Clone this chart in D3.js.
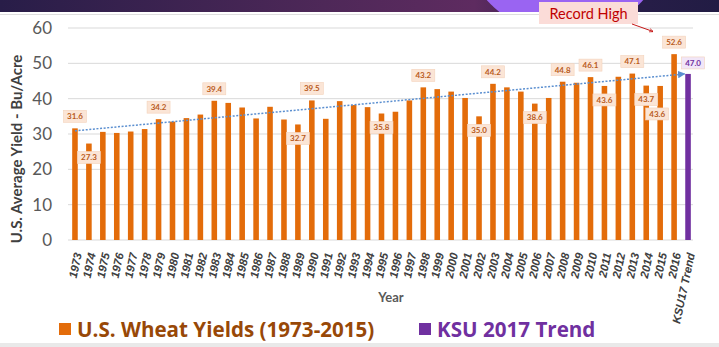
<!DOCTYPE html>
<html>
<head>
<meta charset="utf-8">
<script src="https://cdn.jsdelivr.net/npm/d3@7/dist/d3.min.js"></script>
<style>
  html, body { margin: 0; padding: 0; background: #ffffff; }
  svg { display: block; font-family: Lato, "Open Sans", sans-serif; }
</style>
</head>
<body>
<svg id="chart" width="719" height="347"></svg>
<script>
// U.S. wheat yields by harvest year (bushels per acre)
const years = ["1973","1974","1975","1976","1977","1978","1979","1980","1981","1982",
  "1983","1984","1985","1986","1987","1988","1989","1990","1991","1992",
  "1993","1994","1995","1996","1997","1998","1999","2000","2001","2002",
  "2003","2004","2005","2006","2007","2008","2009","2010","2011","2012",
  "2013","2014","2015","2016"];
const yields = [31.6,27.3,30.6,30.3,30.7,31.4,34.2,33.5,34.5,35.5,
  39.4,38.8,37.5,34.4,37.7,34.1,32.7,39.5,34.3,39.3,
  38.2,37.6,35.8,36.3,39.5,43.2,42.7,42.0,40.2,35.0,
  44.2,43.2,42.0,38.6,40.2,44.8,44.5,46.1,43.6,46.2,
  47.1,43.7,43.6,52.6];
// KSU projection for 2017
const trendCategory = "KSU17 Trend";
const trendValue = 47.0;
// Linear trend drawn from the first year to the projection
const trendLineStart = 30.9;
const trendLineEnd = 47.0;
// Years carrying a value callout
const labeledYears = ["1973","1974","1979","1983","1989","1990","1995","1998","2002","2003",
  "2006","2008","2010","2011","2013","2014","2015","2016"];
const yTicks = [0, 10, 20, 30, 40, 50, 60];
const legendLabels = ["U.S. Wheat Yields (1973-2015)", "KSU 2017 Trend"];

// Callout placement relative to the bar top
const calloutBelow = new Set(["1974","1989","1995","2002","2006","2011","2014"]);
const calloutFarBelow = new Set(["2015"]);

const ORANGE = "#e36c0a", PURPLE = "#7030a0";
const svg = d3.select("#chart");

// ---- slide header strip ----
const defs = svg.append("defs");
const hg = defs.append("linearGradient").attr("id", "hdr").attr("x1", "0").attr("x2", "1");
hg.append("stop").attr("offset", "0").attr("stop-color", "#281d48");
hg.append("stop").attr("offset", "0.45").attr("stop-color", "#4e2858");
hg.append("stop").attr("offset", "0.66").attr("stop-color", "#5e2b60");
hg.append("stop").attr("offset", "0.8").attr("stop-color", "#2a1e4a");
hg.append("stop").attr("offset", "1").attr("stop-color", "#221c44");
defs.append("clipPath").attr("id", "hdrClip")
  .append("rect").attr("x", 0).attr("y", 0).attr("width", 719).attr("height", 12);
svg.append("rect").attr("x", 0).attr("y", 0).attr("width", 719).attr("height", 12)
  .attr("fill", "url(#hdr)");
svg.append("circle").attr("cx", 565).attr("cy", -70).attr("r", 105)
  .attr("fill", "#9a64f2").attr("clip-path", "url(#hdrClip)");
svg.append("line").attr("x1", 0).attr("x2", 719).attr("y1", 14.5).attr("y2", 14.5)
  .attr("stroke", "#dedede").attr("stroke-width", 1.2);
svg.append("rect").attr("x", 0).attr("y", 343).attr("width", 719).attr("height", 4)
  .attr("fill", "#e9e9e9");

// ---- scales ----
const categories = years.concat([trendCategory]);
const x = d3.scaleBand().domain(categories).range([68, 695])
  .paddingInner(0.6).paddingOuter(0.3);
const y = d3.scaleLinear().domain([0, 60]).range([240, 28]);

// gridlines
svg.append("g").selectAll("line").data(yTicks.filter(t => t > 0)).join("line")
  .attr("x1", 68).attr("x2", 693)
  .attr("y1", d => y(d)).attr("y2", d => y(d))
  .attr("stroke", "#d9d9d9").attr("stroke-width", 1);
svg.append("line").attr("x1", 68).attr("x2", 693).attr("y1", y(0)).attr("y2", y(0))
  .attr("stroke", "#d9d9d9");

// y axis
const yAxis = svg.append("g").attr("transform", "translate(55,0)")
  .call(d3.axisLeft(y).tickValues(yTicks).tickSize(0).tickPadding(3));
yAxis.select(".domain").remove();
yAxis.selectAll("text").attr("font-size", 17).attr("fill", "#595959")
  .attr("font-family", "Lato, sans-serif");

svg.append("text")
  .attr("transform", "translate(22,149) rotate(-90)")
  .attr("text-anchor", "middle").attr("font-size", 15).attr("font-weight", 700)
  .attr("fill", "#404040").text("U.S. Average Yield - Bu/Acre");

// x axis labels
const xAxis = svg.append("g").attr("transform", `translate(0,${y(0)})`)
  .call(d3.axisBottom(x).tickSize(0).tickPadding(0));
xAxis.select(".domain").remove();
xAxis.selectAll(".tick text")
  .attr("text-anchor", "end")
  .attr("font-size", 11.5).attr("font-weight", 700).attr("font-style", "italic")
  .attr("fill", "#404040")
  .attr("transform", "translate(3,13) rotate(-78)")
  .attr("dy", "0.35em").attr("y", 0).attr("x", 0);

svg.append("text").attr("x", 391).attr("y", 302).attr("text-anchor", "middle")
  .attr("font-size", 13).attr("font-weight", 700).attr("fill", "#595959").text("Year");

// ---- bars ----
svg.append("g").selectAll("rect").data(years.map((yr, i) => ({yr, v: yields[i]}))).join("rect")
  .attr("x", d => x(d.yr)).attr("width", x.bandwidth())
  .attr("y", d => y(d.v)).attr("height", d => y(0) - y(d.v))
  .attr("fill", ORANGE);
svg.append("rect")
  .attr("x", x(trendCategory)).attr("width", x.bandwidth())
  .attr("y", y(trendValue)).attr("height", y(0) - y(trendValue))
  .attr("fill", PURPLE);

// ---- trend line ----
defs.append("marker").attr("id", "arrowBlue").attr("viewBox", "0 0 10 10")
  .attr("refX", 9).attr("refY", 5).attr("markerWidth", 5).attr("markerHeight", 5)
  .attr("orient", "auto")
  .append("path").attr("d", "M0,0 L10,5 L0,10 Z").attr("fill", "#5b8fd0");
svg.append("line")
  .attr("x1", x(years[0]) + x.bandwidth() / 2).attr("y1", y(trendLineStart))
  .attr("x2", x(trendCategory) - 0.5).attr("y2", y(trendLineEnd))
  .attr("stroke", "#5b8fd0").attr("stroke-width", 1.5)
  .attr("stroke-dasharray", "2,1.6").attr("marker-end", "url(#arrowBlue)");

// ---- value callouts ----
const callouts = labeledYears.map(yr => ({yr, v: yields[years.indexOf(yr)]}));
const cg = svg.append("g");
function callout(cx, cy, text, fill, color) {
  const g = cg.append("g").attr("transform", `translate(${cx},${cy})`);
  g.append("rect").attr("x", -11.5).attr("y", -6).attr("width", 23).attr("height", 12)
    .attr("fill", fill).attr("stroke", "#f3d2bb").attr("stroke-width", 0.6);
  g.append("text").attr("text-anchor", "middle").attr("dy", "0.35em")
    .attr("font-size", 8).attr("font-weight", 700).attr("fill", color).text(text);
}
callouts.forEach(d => {
  const cx = x(d.yr) + x.bandwidth() / 2;
  let cy = y(d.v) - 12;
  if (calloutBelow.has(d.yr)) cy = y(d.v) + 14;
  if (calloutFarBelow.has(d.yr)) cy = y(d.v) + 28;
  callout(calloutFarBelow.has(d.yr) ? cx - 3 : cx, cy, d.v.toFixed(1), "#fbe5d6", "#b85a1a");
});
callout(x(trendCategory) + x.bandwidth() / 2 + 5, y(trendValue) - 11,
  trendValue.toFixed(1), "#f1e6f8", PURPLE);

// ---- record high note ----
svg.append("rect").attr("x", 539).attr("y", 2).attr("width", 99).attr("height", 22)
  .attr("fill", "#fbdcd8");
svg.append("text").attr("x", 588.5).attr("y", 18.5).attr("text-anchor", "middle")
  .attr("font-size", 14.5).attr("fill", "#c00000").text("Record High");
defs.append("marker").attr("id", "arrowRed").attr("viewBox", "0 0 10 10")
  .attr("refX", 9).attr("refY", 5).attr("markerWidth", 5).attr("markerHeight", 5)
  .attr("orient", "auto")
  .append("path").attr("d", "M0,1 L10,5 L0,9").attr("fill", "none")
  .attr("stroke", "#c00000").attr("stroke-width", 1.5);
svg.append("line").attr("x1", 632).attr("y1", 24).attr("x2", 653).attr("y2", 31.5)
  .attr("stroke", "#c00000").attr("stroke-width", 0.9).attr("marker-end", "url(#arrowRed)");

// ---- legend ----
const legendItems = [
  {label: legendLabels[0], color: ORANGE, text: "#984807", x: 59},
  {label: legendLabels[1], color: PURPLE, text: PURPLE, x: 419}
];
const lg = svg.append("g").selectAll("g").data(legendItems).join("g")
  .attr("transform", d => `translate(${d.x},323)`);
lg.append("rect").attr("width", 12).attr("height", 12).attr("fill", d => d.color);
lg.append("text").attr("x", 18).attr("y", 13.5).attr("font-size", 20.6).attr("font-weight", 700)
  .attr("font-family", "'Open Sans', sans-serif")
  .attr("fill", d => d.text).text(d => d.label);
</script>
</body>
</html>
